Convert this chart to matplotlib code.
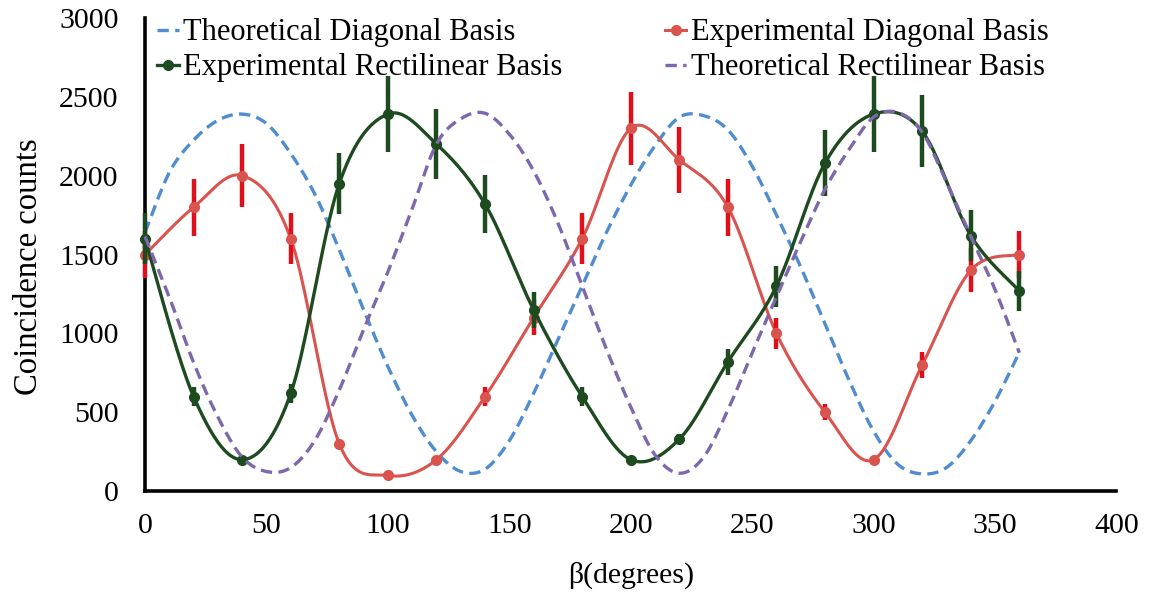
import numpy as np
import matplotlib
matplotlib.use("Agg")
import matplotlib.pyplot as plt

# ---------------- data ----------------
beta_exp = [0, 20, 40, 60, 80, 100, 120, 140, 160, 180, 200, 220, 240, 260, 280, 300, 320, 340, 360]
exp_diag = [1500, 1800, 2000, 1600, 300, 100, 200, 600, 1100, 1600, 2300, 2100, 1800, 1000, 500, 200, 800, 1400, 1500]
exp_diag_err = [150, 180, 200, 160, 30, 10, 20, 60, 110, 160, 230, 210, 180, 100, 50, 20, 80, 140, 150]
exp_rect = [1600, 600, 200, 620, 1950, 2390, 2200, 1820, 1150, 600, 200, 330, 820, 1300, 2080, 2390, 2280, 1620, 1270]
exp_rect_err = [160, 60, 20, 62, 195, 239, 220, 182, 115, 60, 20, 33, 82, 130, 208, 239, 228, 162, 127]

beta_th = [0, 10, 20, 30, 40, 50, 60, 70, 80, 90, 100, 110, 120, 130, 140, 150, 160, 170, 180,
           190, 200, 210, 220, 230, 240, 250, 260, 270, 280, 290, 300, 310, 320, 330, 340, 350, 360]
th_diag = [1640, 2020, 2225, 2350, 2390, 2330, 2140, 1880, 1530, 1150, 790, 480, 250, 125, 140, 320,
           620, 960, 1300, 1640, 1940, 2190, 2370, 2380, 2290, 2060, 1750, 1420, 1060, 700, 380, 170,
           110, 150, 320, 570, 880]
th_rect = [1615, 1230, 815, 470, 216, 125, 150, 324, 642, 1024, 1390, 1790, 2200, 2360, 2395, 2263,
           2030, 1700, 1300, 900, 534, 230, 114, 216, 515, 877, 1233, 1583, 1914, 2168, 2371, 2400,
           2276, 1958, 1615, 1278, 877]

labels = ["Theoretical Diagonal Basis", "Experimental Diagonal Basis",
          "Experimental Rectilinear Basis", "Theoretical Rectilinear Basis"]
xticks = [0, 50, 100, 150, 200, 250, 300, 350, 400]
yticks = [0, 500, 1000, 1500, 2000, 2500, 3000]

# colours
c_blue = "#4f8cd0"
c_red_line = "#d9534f"
c_red_err = "#e0101a"
c_green = "#1d4a1f"
c_purple = "#7d68ad"

plt.rcParams['font.family'] = ['Liberation Serif', 'DejaVu Serif']
FS = 21.5


def excel_smooth(x, y, n=40):
    pts = np.column_stack([np.asarray(x, float), np.asarray(y, float)])
    P = np.vstack([pts[0], pts, pts[-1]])
    segs = []
    t = np.linspace(0, 1, n)[:, None]
    for i in range(1, len(P) - 2):
        p0, p1, p2, p3 = P[i - 1], P[i], P[i + 1], P[i + 2]
        c1 = p1 + (p2 - p0) / 6.0
        c2 = p2 - (p3 - p1) / 6.0
        seg = (1 - t) ** 3 * p1 + 3 * (1 - t) ** 2 * t * c1 + 3 * (1 - t) * t ** 2 * c2 + t ** 3 * p2
        segs.append(seg)
    s = np.vstack(segs)
    return s[:, 0], s[:, 1]


fig = plt.figure(figsize=(11.51, 5.94), dpi=100)
ax = fig.add_axes([0.126, 0.173, 0.844, 0.797])

# theoretical diagonal
sx, sy = excel_smooth(beta_th, th_diag)
h_td, = ax.plot(sx, sy, color=c_blue, lw=2.4, dashes=(3.4, 1.9), zorder=2, clip_on=False)

# experimental diagonal
sx, sy = excel_smooth(beta_exp, exp_diag)
ax.plot(sx, sy, color=c_red_line, lw=2.2, zorder=3, clip_on=False)
ax.errorbar(beta_exp, exp_diag, yerr=exp_diag_err, fmt='none', ecolor=c_red_err,
            elinewidth=3.2, capsize=0, zorder=3.1, clip_on=False)
ax.plot(beta_exp, exp_diag, 'o', color=c_red_line, ms=7, zorder=3.2, clip_on=False)
h_ed, = ax.plot([], [], color=c_red_line, lw=2.2, marker='o', ms=7)

# experimental rectilinear
sx, sy = excel_smooth(beta_exp, exp_rect)
ax.plot(sx, sy, color=c_green, lw=2.4, zorder=4, clip_on=False)
ax.errorbar(beta_exp, exp_rect, yerr=exp_rect_err, fmt='none', ecolor=c_green,
            elinewidth=3.2, capsize=0, zorder=4.1, clip_on=False)
ax.plot(beta_exp, exp_rect, 'o', color=c_green, ms=7, zorder=4.2, clip_on=False)
h_er, = ax.plot([], [], color=c_green, lw=2.4, marker='o', ms=7)

# theoretical rectilinear
sx, sy = excel_smooth(beta_th, th_rect)
h_tr, = ax.plot(sx, sy, color=c_purple, lw=2.4, dashes=(3.4, 1.9), zorder=5, clip_on=False)

ax.set_xlim(0, 400)
ax.set_ylim(0, 3000)
ax.set_xticks(xticks)
ax.set_yticks(yticks)
ax.tick_params(axis='both', length=0, labelsize=FS)
ax.tick_params(axis='x', pad=16)
ax.tick_params(axis='y', pad=19)
for s in ['top', 'right']:
    ax.spines[s].set_visible(False)
for s in ['left', 'bottom']:
    ax.spines[s].set_linewidth(2.6)
    ax.spines[s].set_color('black')

ax.set_xlabel("β(degrees)", fontsize=FS, labelpad=16)
ax.set_ylabel("Coincidence counts", fontsize=23.5)
ax.yaxis.set_label_coords(-0.104, 0.474)

leg = ax.legend([h_td, h_er, h_ed, h_tr], [labels[0], labels[2], labels[1], labels[3]],
                ncol=2, loc='upper left', bbox_to_anchor=(0.0, 1.025), frameon=False,
                fontsize=22, handlelength=0.7, handletextpad=0.15, columnspacing=3.35,
                labelspacing=0.2, borderaxespad=0.0)

fig.savefig("out.png", dpi=100)
